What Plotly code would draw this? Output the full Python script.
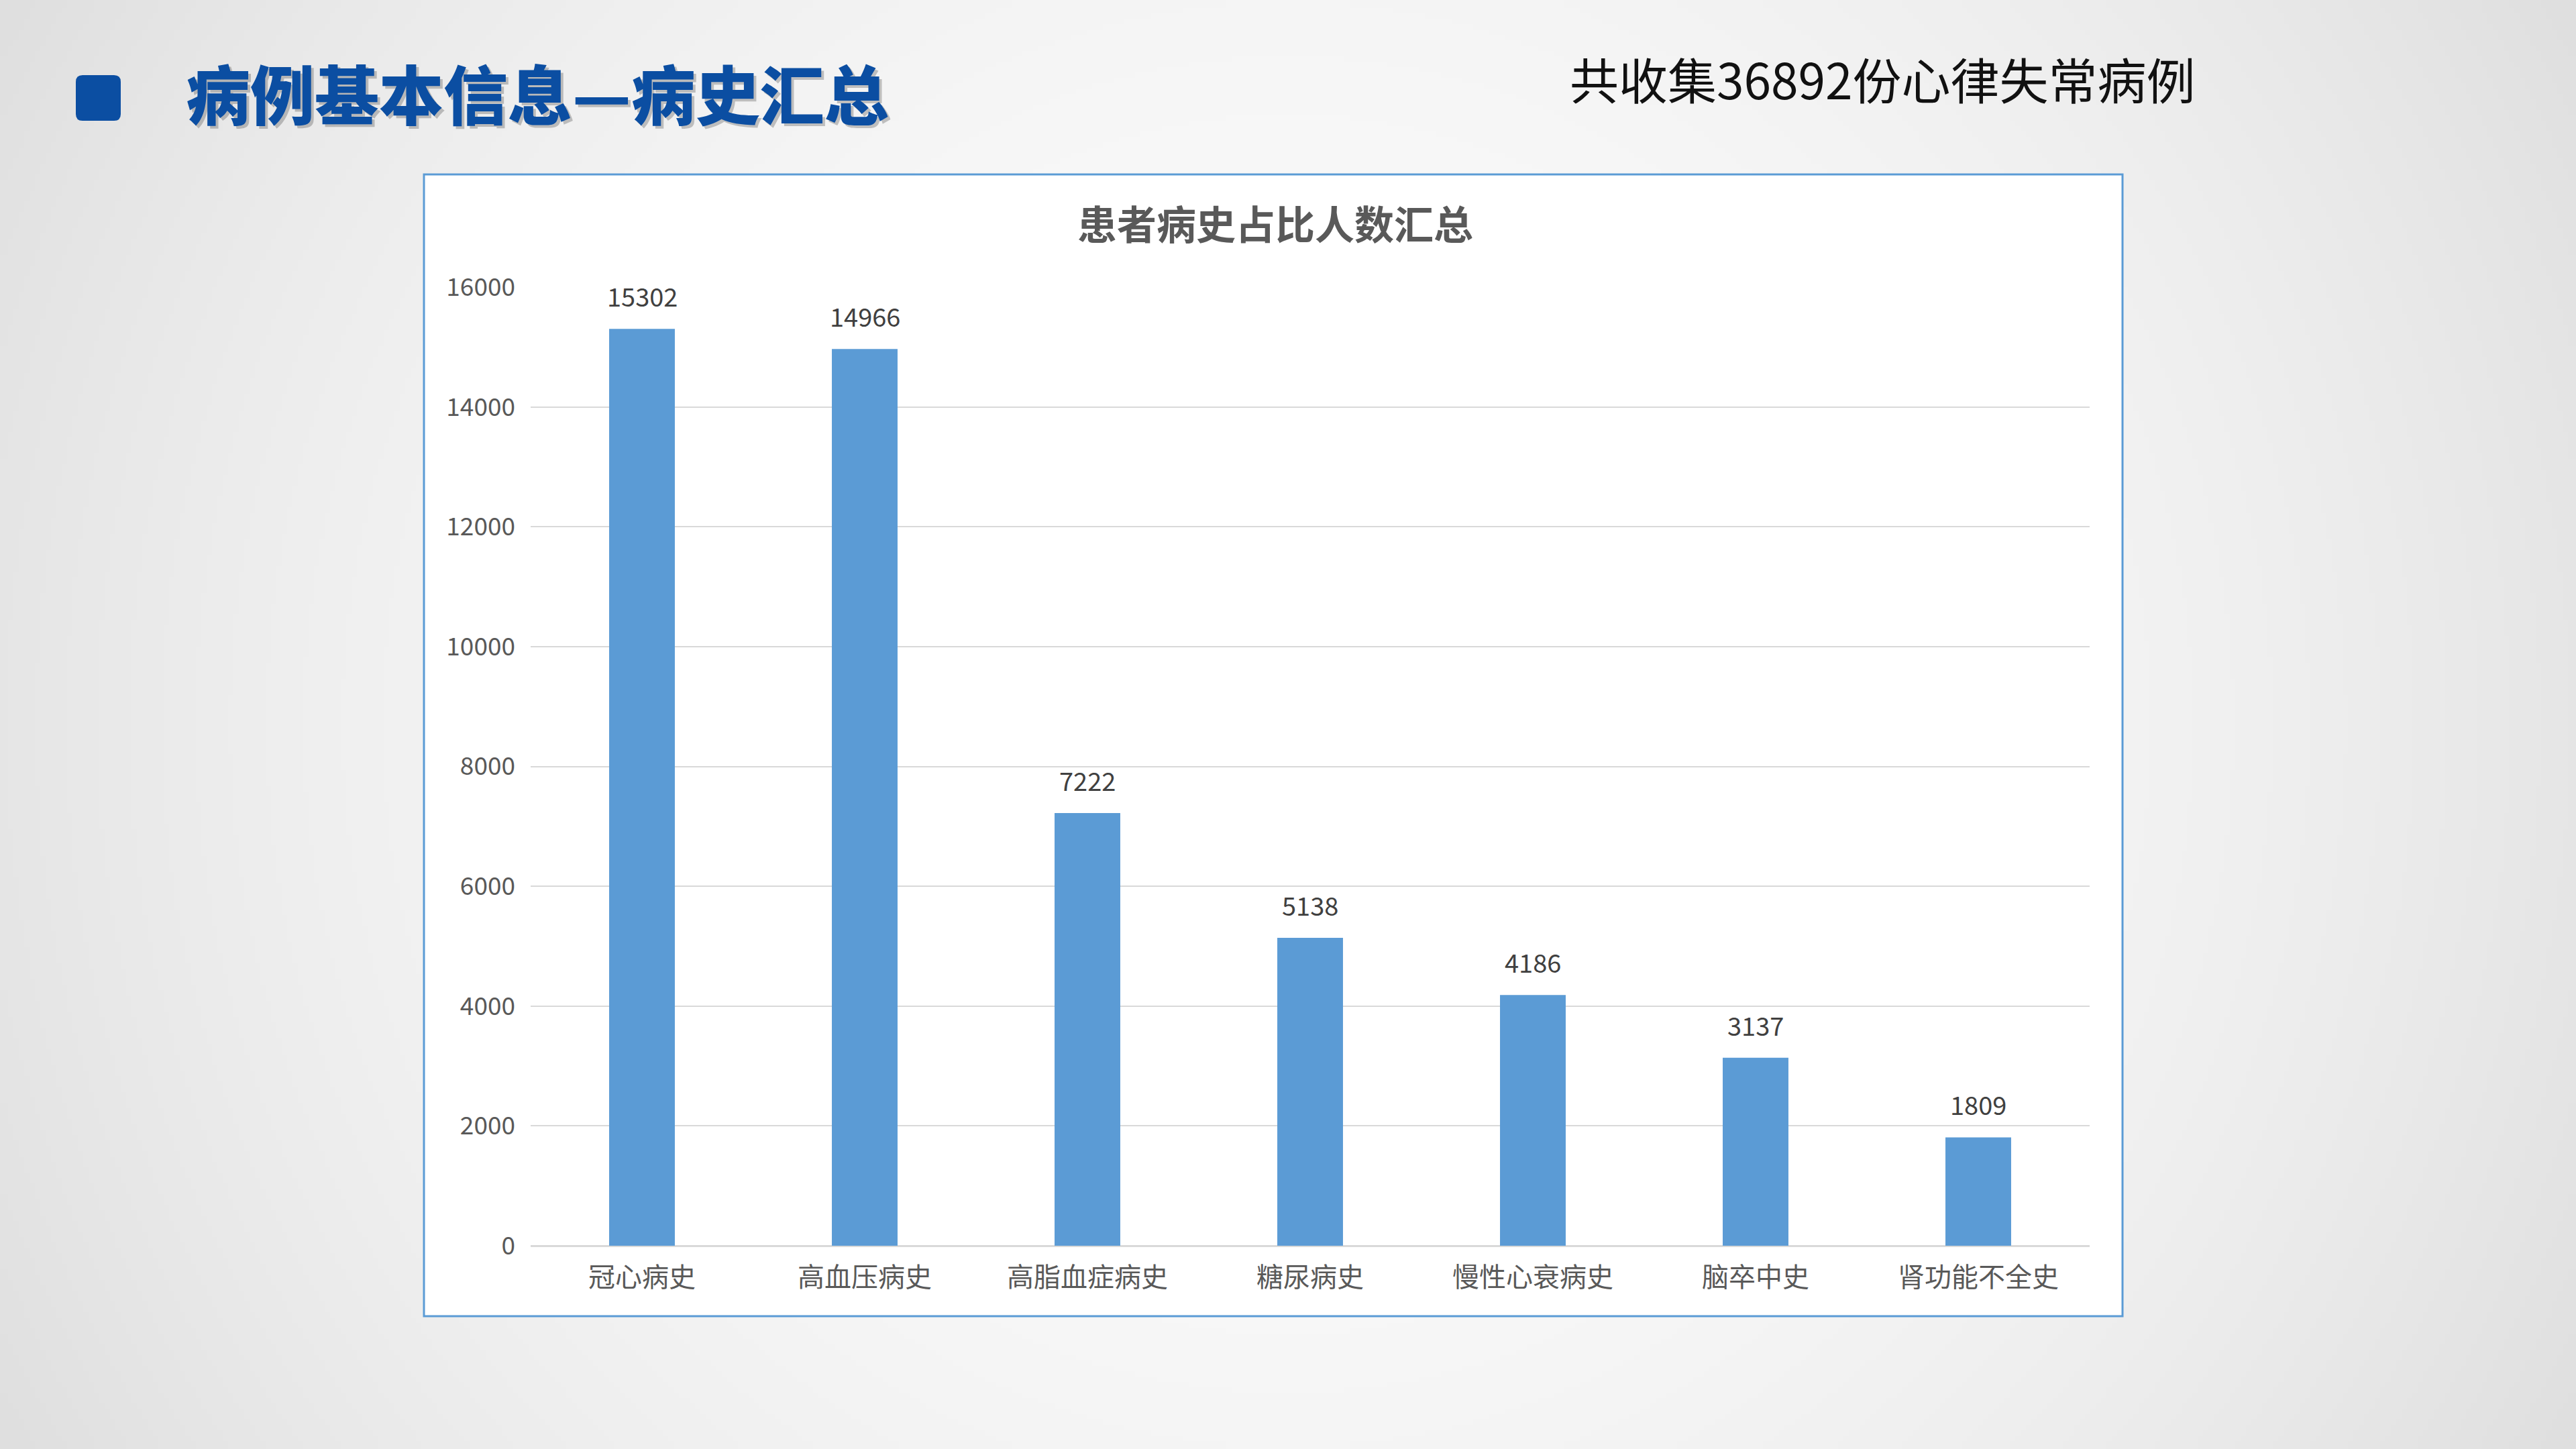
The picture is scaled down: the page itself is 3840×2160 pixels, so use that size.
import base64, struct, zlib
import numpy as np
import plotly.graph_objects as go

# ---------------- data ----------------
categories = ["冠心病史", "高血压病史", "高脂血症病史", "糖尿病史", "慢性心衰病史", "脑卒中史", "肾功能不全史"]
counts = [15302, 14966, 7222, 5138, 4186, 3137, 1809]
y_ticks = [0, 2000, 4000, 6000, 8000, 10000, 12000, 14000, 16000]

page_title = "病例基本信息—病史汇总"
subtitle = "共收集36892份心律失常病例"
chart_title = "患者病史占比人数汇总"

W, H = 3840, 2160


def px(x):
    return x / W


def py(y):
    return 1 - y / H


# ---------------- background gradient image ----------------
def make_png(arr):
    h, w, _ = arr.shape
    raw = b"".join(b"\x00" + arr[i].tobytes() for i in range(h))

    def chunk(tag, data):
        c = struct.pack(">I", len(data)) + tag + data
        return c + struct.pack(">I", zlib.crc32(tag + data) & 0xFFFFFFFF)

    png = b"\x89PNG\r\n\x1a\n"
    png += chunk(b"IHDR", struct.pack(">IIBBBBB", w, h, 8, 2, 0, 0, 0))
    png += chunk(b"IDAT", zlib.compress(raw, 9))
    png += chunk(b"IEND", b"")
    return "data:image/png;base64," + base64.b64encode(png).decode()


gw, gh = 480, 270
gx = (np.arange(gw) + 0.5) / gw
gy = (np.arange(gh) + 0.5) / gh
XX, YY = np.meshgrid(gx, gy)
d2 = ((XX - 0.5) * 1.778) ** 2 + (YY - 0.5) ** 2
val = np.clip(252 - 28 * d2, 0, 255).astype(np.uint8)
img = np.stack([val, val, val], axis=-1)
bg_src = make_png(img)

# ---------------- figure ----------------
fig = go.Figure()
fig.add_trace(go.Bar(
    x=categories,
    y=counts,
    marker=dict(color="#5B9BD5", line=dict(width=0)),
    hoverinfo="skip",
))

# chart box
shapes = [
    dict(type="rect", xref="paper", yref="paper",
         x0=px(632), x1=px(3164), y0=py(1962), y1=py(260),
         fillcolor="white", line=dict(color="#5B9BD5", width=3), layer="below"),
]

# rounded blue square
x0, x1, y0, y1, r = 113, 180, 112, 180, 10
path = (f"M {px(x0 + r)} {py(y0)} L {px(x1 - r)} {py(y0)} "
        f"Q {px(x1)} {py(y0)} {px(x1)} {py(y0 + r)} "
        f"L {px(x1)} {py(y1 - r)} Q {px(x1)} {py(y1)} {px(x1 - r)} {py(y1)} "
        f"L {px(x0 + r)} {py(y1)} Q {px(x0)} {py(y1)} {px(x0)} {py(y1 - r)} "
        f"L {px(x0)} {py(y0 + r)} Q {px(x0)} {py(y0)} {px(x0 + r)} {py(y0)} Z")
shapes.append(dict(type="path", xref="paper", yref="paper", path=path,
                   fillcolor="#0B4EA2", line=dict(width=0), layer="above"))

annotations = [
    # title shadow
    dict(text=page_title, xref="paper", yref="paper", x=px(279), y=py(141),
         xanchor="left", yanchor="middle", showarrow=False,
         font=dict(family="Noto Sans CJK SC", size=96, color="rgba(0,0,0,0.22)", weight=900)),
    dict(text=page_title, xref="paper", yref="paper", x=px(275), y=py(137),
         xanchor="left", yanchor="middle", showarrow=False,
         font=dict(family="Noto Sans CJK SC", size=96, color="#0B4EA2", weight=900)),
    dict(text=subtitle, xref="paper", yref="paper", x=px(2338), y=py(116),
         xanchor="left", yanchor="middle", showarrow=False,
         font=dict(family="Noto Sans CJK SC", size=73, color="#111111")),
    dict(text=chart_title, xref="paper", yref="paper", x=px(1901), y=py(331),
         xanchor="center", yanchor="middle", showarrow=False,
         font=dict(family="Noto Sans CJK SC", size=59, color="#595959", weight="bold")),
]

# data labels above bars
for cat, v in zip(categories, counts):
    annotations.append(dict(
        text=str(v), x=cat, y=v, xref="x", yref="y",
        xanchor="center", yanchor="bottom", yshift=20, showarrow=False,
        font=dict(family="Noto Sans CJK SC, Noto Sans", size=38, color="#404040"),
    ))

fig.update_layout(
    width=W, height=H, autosize=False,
    margin=dict(l=0, r=0, t=0, b=0, pad=0, autoexpand=False),
    paper_bgcolor="#e8e8e8",
    plot_bgcolor="rgba(0,0,0,0)",
    showlegend=False,
    bargap=0.705,
    images=[dict(source=bg_src, xref="paper", yref="paper", x=0, y=1,
                 sizex=1, sizey=1, sizing="stretch", layer="below",
                 xanchor="left", yanchor="top")],
    shapes=shapes,
    annotations=annotations,
    xaxis=dict(domain=[px(791), px(3115)], showgrid=False, showline=False,
               automargin=False,
               ticks="", ticklabelstandoff=20,
               tickfont=dict(family="Noto Sans CJK SC", size=40, color="#595959")),
    yaxis=dict(domain=[py(1857), py(428)], range=[0, 16000],
               automargin=False,
               tickvals=y_ticks, ticktext=[str(v) for v in y_ticks],
               showgrid=True, gridcolor="#d9d9d9", gridwidth=2,
               zeroline=True, zerolinecolor="#d9d9d9", zerolinewidth=3,
               showline=False, ticks="", ticklabelstandoff=22,
               tickfont=dict(family="Noto Sans CJK SC, Noto Sans", size=37, color="#595959")),
)

fig.write_html("out.html")
